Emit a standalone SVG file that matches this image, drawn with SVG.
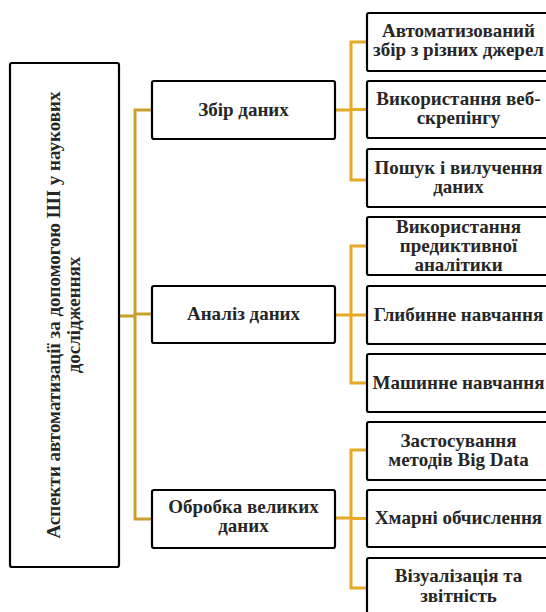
<svg xmlns="http://www.w3.org/2000/svg" width="546" height="612" viewBox="0 0 546 612">
<style>
.box{fill:#fff;stroke:#000;stroke-width:2.2}
.t{font-family:"Liberation Serif","Times New Roman",serif;font-weight:bold;font-size:19px;fill:#262626;text-anchor:middle}
.cl{fill:none;stroke:#C9A030;stroke-width:3}
.cr{fill:none;stroke:#E6AA26;stroke-width:3}
</style>
<rect width="546" height="612" fill="#fff"/>
<g id="connectors">
<path class="cl" d="M119 316H135M152 110H135V519H152M135 314H152"/>
<path class="cr" d="M335 110H351M367 42H351V180H367M351 109.5H367"/>
<path class="cr" d="M335 315H351M367 246H351V383H367M351 315H367"/>
<path class="cr" d="M335 518H351M367 450H351V588H367M351 518.5H367"/>
</g>
<g id="root">
<rect class="box" x="10" y="63" width="109" height="504" rx="2"/>
<g transform="translate(64,315) rotate(-90)">
<text class="t" x="0" y="-4">Аспекти автоматизації за допомогою ШІ у наукових</text>
<text class="t" x="0" y="16">дослідженнях</text>
</g>
</g>
<g id="n-zbir">
<rect class="box" x="152" y="81" width="183" height="58" rx="2"/>
<text class="t" x="243.5" y="116">Збір даних</text>
</g>
<g id="n-analiz">
<rect class="box" x="152" y="286" width="183" height="57" rx="2"/>
<text class="t" x="243.5" y="320">Аналіз даних</text>
</g>
<g id="n-obrobka">
<rect class="box" x="152" y="490" width="183" height="58" rx="2"/>
<text class="t" x="243.5" y="513">Обробка великих</text>
<text class="t" x="243.5" y="532">даних</text>
</g>
<g id="n-a1">
<rect class="box" x="367" y="13" width="183" height="58" rx="2"/>
<text class="t" x="458.5" y="37">Автоматизований</text>
<text class="t" x="458.5" y="56">збір з різних джерел</text>
</g>
<g id="n-a2">
<rect class="box" x="367" y="81" width="183" height="57" rx="2"/>
<text class="t" x="458.5" y="105">Використання веб-</text>
<text class="t" x="458.5" y="124">скрепінгу</text>
</g>
<g id="n-a3">
<rect class="box" x="367" y="149" width="183" height="58" rx="2"/>
<text class="t" x="458.5" y="174">Пошук і вилучення</text>
<text class="t" x="458.5" y="193">даних</text>
</g>
<g id="n-b1">
<rect class="box" x="367" y="217" width="183" height="58" rx="2"/>
<text class="t" x="458.5" y="233">Використання</text>
<text class="t" x="458.5" y="252">предиктивної</text>
<text class="t" x="458.5" y="271">аналітики</text>
</g>
<g id="n-b2">
<rect class="box" x="367" y="286" width="183" height="58" rx="2"/>
<text class="t" x="458.5" y="321">Глибинне навчання</text>
</g>
<g id="n-b3">
<rect class="box" x="367" y="354" width="183" height="58" rx="2"/>
<text class="t" x="458.5" y="389">Машинне навчання</text>
</g>
<g id="n-c1">
<rect class="box" x="367" y="422" width="183" height="58" rx="2"/>
<text class="t" x="458.5" y="447">Застосування</text>
<text class="t" x="458.5" y="466">методів Big Data</text>
</g>
<g id="n-c2">
<rect class="box" x="367" y="490" width="183" height="57" rx="2"/>
<text class="t" x="458.5" y="524">Хмарні обчислення</text>
</g>
<g id="n-c3">
<rect class="box" x="367" y="558" width="183" height="60" rx="2"/>
<text class="t" x="458.5" y="582">Візуалізація та</text>
<text class="t" x="458.5" y="602">звітність</text>
</g>
</svg>
